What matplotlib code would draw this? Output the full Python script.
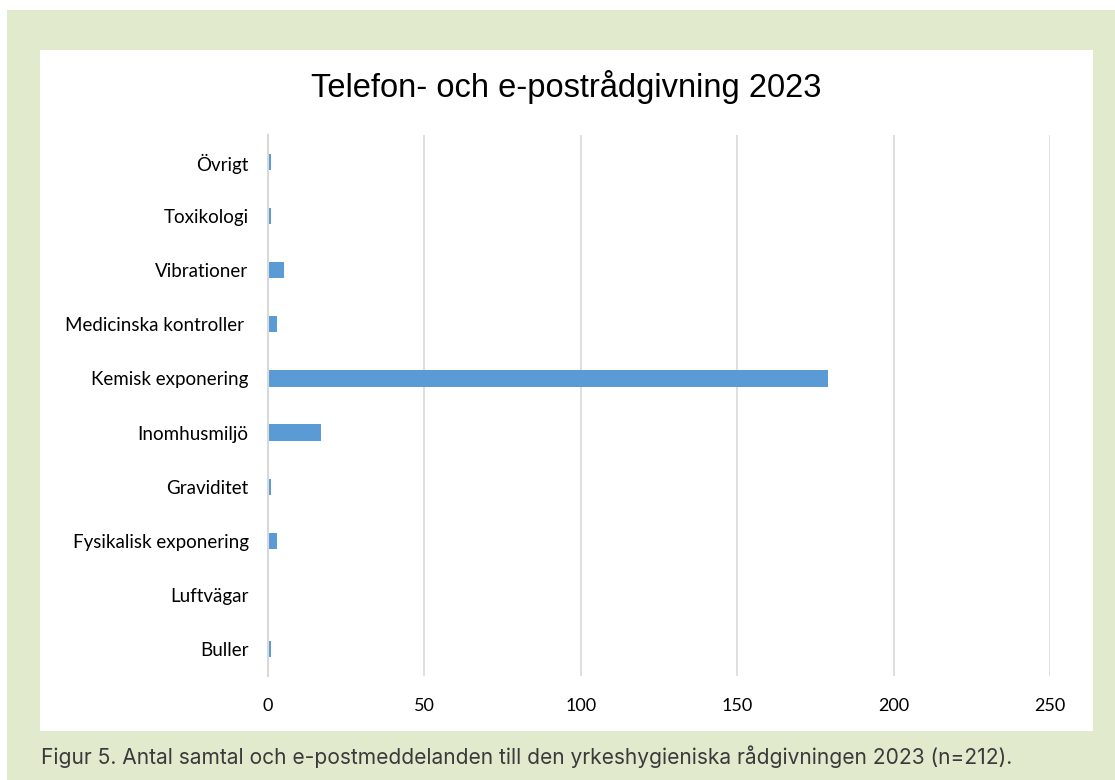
import matplotlib
matplotlib.use("Agg")
import matplotlib.pyplot as plt
from matplotlib.patches import Rectangle

categories = ["Buller", "Luftvägar", "Fysikalisk exponering", "Graviditet", "Inomhusmiljö",
              "Kemisk exponering", "Medicinska kontroller ", "Vibrationer", "Toxikologi", "Övrigt"]
values = [1, 0, 3, 1, 17, 179, 3, 5, 1, 1]
xticks = [0, 50, 100, 150, 200, 250]
title = "Telefon- och e-postrådgivning 2023"
caption = "Figur 5. Antal samtal och e-postmeddelanden till den yrkeshygieniska rådgivningen 2023 (n=212)."

W, H = 1115, 780
fig = plt.figure(figsize=(W / 100, H / 100), dpi=100)
fig.patch.set_facecolor("white")

# green frame and white panel
fig.add_artist(Rectangle((7 / W, 0), 1 - 7 / W, (H - 10) / H, transform=fig.transFigure,
                         facecolor="#E2EACD", edgecolor="none", zorder=0))
fig.add_artist(Rectangle((40 / W, (H - 731) / H), (1093 - 40) / W, (731 - 50) / H,
                         transform=fig.transFigure, facecolor="white", edgecolor="none", zorder=0))

ax = fig.add_axes([268 / W, (H - 676) / H, (1050 - 268) / W, (676 - 135) / H])
ax.set_facecolor("none")
ypos = list(range(len(categories)))
ax.barh(ypos, values, height=0.3, color="#5B9BD5", zorder=3)
ax.set_xlim(0, 250)
ax.set_ylim(-0.5, len(categories) - 0.5)
ax.set_xticks(xticks)
ax.set_xticklabels([str(t) for t in xticks], fontsize=13, family="Lato")
ax.set_yticks(ypos)
ax.set_yticklabels(categories, fontsize=13.5, family="Lato")
ax.tick_params(axis="x", length=0, pad=16)
ax.tick_params(axis="y", length=0, pad=14)
ax.grid(axis="x", color="#D9D9D9", linewidth=1.2, zorder=0)
for s in ["top", "right", "bottom"]:
    ax.spines[s].set_visible(False)
ax.spines["left"].set_color("#D9D9D9")
ax.spines["left"].set_linewidth(1.5)
ax.spines["left"].set_zorder(4)

fig.text(566 / W, 1 - 87 / H, title, ha="center", va="center", fontsize=23.5,
         family="Liberation Sans", color="black")
fig.text(41 / W, 1 - 757 / H, caption, ha="left", va="center", fontsize=15.1,
         family="Inter", color="#3a3a3a")

fig.savefig("out.png", dpi=100, facecolor="white")
